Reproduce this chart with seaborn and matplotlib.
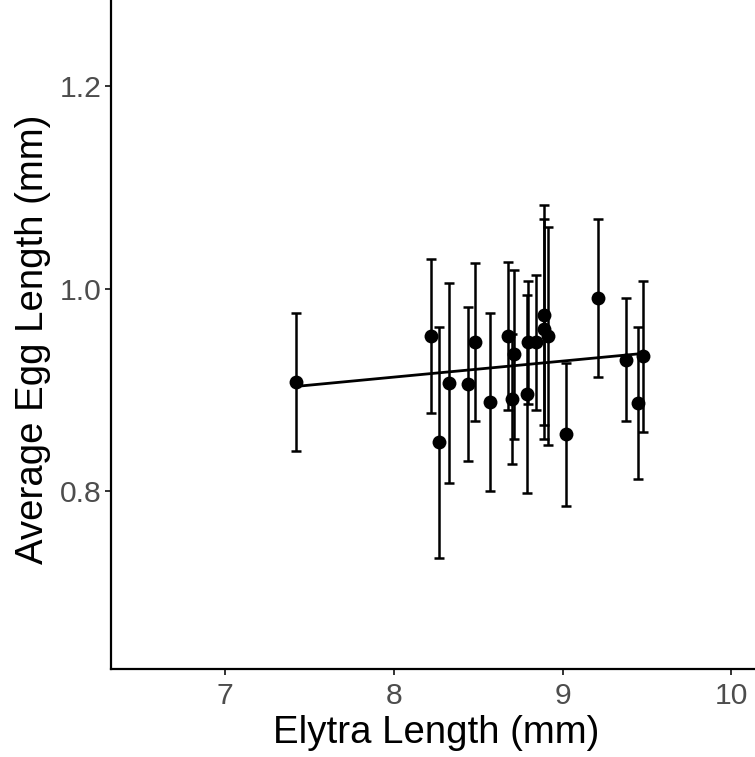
import matplotlib
matplotlib.use("Agg")
import matplotlib.pyplot as plt
import seaborn as sns
import pandas as pd

elytra_length = [7.421, 8.220, 8.270, 8.329, 8.440, 8.481, 8.568, 8.675, 8.710, 8.700,
                 8.789, 8.793, 8.841, 8.888, 8.888, 8.912, 9.018, 9.208, 9.377, 9.445, 9.478]
egg_length = [0.908, 0.953, 0.848, 0.907, 0.906, 0.947, 0.888, 0.953, 0.935, 0.891,
              0.896, 0.947, 0.947, 0.974, 0.960, 0.953, 0.856, 0.991, 0.930, 0.887, 0.933]
egg_sd = [0.068, 0.076, 0.114, 0.099, 0.076, 0.078, 0.088, 0.073, 0.084, 0.064,
          0.098, 0.061, 0.067, 0.109, 0.109, 0.108, 0.071, 0.078, 0.061, 0.075, 0.075]
x_ticks = [7, 8, 9, 10]
y_ticks = [0.8, 1.0, 1.2]

df = pd.DataFrame({"elytra": elytra_length, "egg": egg_length, "sd": egg_sd})

sns.set_theme(style="ticks")
plt.rcParams["font.family"] = ["Liberation Sans", "DejaVu Sans"]

W, H = 755, 757
fig = plt.figure(figsize=(W / 100, H / 100), dpi=100)
# panel: left spine at x=111, bottom spine at y=669 (from top); panel runs past right edge
ax = fig.add_axes([111 / W, 88 / H, 651 / W, 669 / H])

ax.errorbar(df["elytra"], df["egg"], yerr=df["sd"], fmt="none", ecolor="black",
            elinewidth=1.8, capsize=3.3, capthick=1.8, zorder=2)
sns.regplot(data=df, x="elytra", y="egg", scatter=False, ci=None, ax=ax,
            line_kws={"color": "black", "linewidth": 2.0, "zorder": 3})
sns.scatterplot(data=df, x="elytra", y="egg", ax=ax, color="black", s=100,
                edgecolor="black", linewidth=0, zorder=4)

ax.set_xlim(6.325, 10.181)
ax.set_ylim(0.624, 1.2855)
ax.set_xticks(x_ticks)
ax.set_xticklabels([str(t) for t in x_ticks])
ax.set_yticks(y_ticks)
ax.set_yticklabels([f"{t:.1f}" for t in y_ticks])

for s in ["top", "right"]:
    ax.spines[s].set_visible(False)
for s in ["left", "bottom"]:
    ax.spines[s].set_color("black")
    ax.spines[s].set_linewidth(1.6)

ax.tick_params(axis="both", length=4.3, width=1.4, color="#333333",
               labelsize=21.7, labelcolor="#4D4D4D")
ax.tick_params(axis="x", pad=4.7)
ax.tick_params(axis="y", pad=2.2)

ax.set_xlabel("Elytra Length (mm)", fontsize=27.6, color="black")
ax.set_ylabel("Average Egg Length (mm)", fontsize=27.6, color="black")
ax.xaxis.label.set_verticalalignment("baseline")
ax.xaxis.set_label_coords(0.5, (14 - 88) / 669)
ax.yaxis.label.set_verticalalignment("baseline")
ax.yaxis.set_label_coords((43.3 - 111) / 651, (418 - 88) / 669)

fig.savefig("out.png", dpi=100)
